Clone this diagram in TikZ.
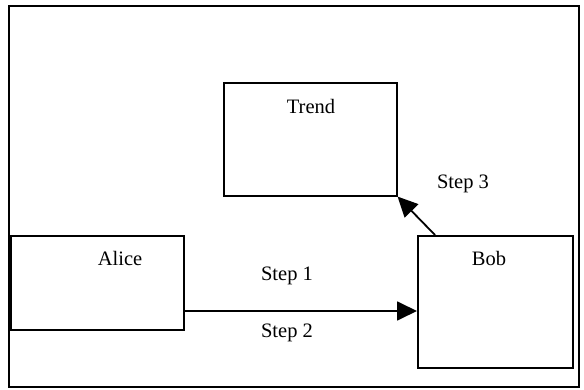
\documentclass[tikz,border=0pt]{standalone}
\usepackage{fontspec}
\setmainfont{Liberation Serif}
\usetikzlibrary{arrows.meta}
\begin{document}
\begin{tikzpicture}[x=1pt,y=-1pt,
  box/.style={draw,line width=1.6pt,rectangle,inner sep=0pt,anchor=north west},
  lbl/.style={font=\fontsize{20.5}{24}\selectfont,inner sep=0pt},
  conn/.style={line width=1.8pt,-{Triangle[length=20pt,width=19pt]}}]
\useasboundingbox (0,0) rectangle (584,390);
\node[box,line width=2pt,minimum width=570pt,minimum height=381pt] (frame) at (8,5) {};
\node[box,minimum width=173pt,minimum height=94pt] (alice) at (10,235) {};
\node[box,minimum width=155pt,minimum height=132pt] (bob) at (417,235) {};
\node[box,minimum width=173pt,minimum height=113pt] (trend) at (223,82) {};
\node[lbl] (talice) at (120,258) {Alice};
\node[lbl] (tbob) at (489,258) {Bob};
\node[lbl] (ttrend) at (311,106) {Trend};
\node[lbl] (s1) at (287,276) {Step 1};
\node[lbl] (s2) at (287,333) {Step 2};
\node[lbl] (s3) at (463,184) {Step 3};
\coordinate (b3) at (435,235);
\draw[conn] (alice.east |- 0,311) -- (bob.west |- 0,311);
\draw[conn] (b3) -- (trend.south east);
\end{tikzpicture}
\end{document}
